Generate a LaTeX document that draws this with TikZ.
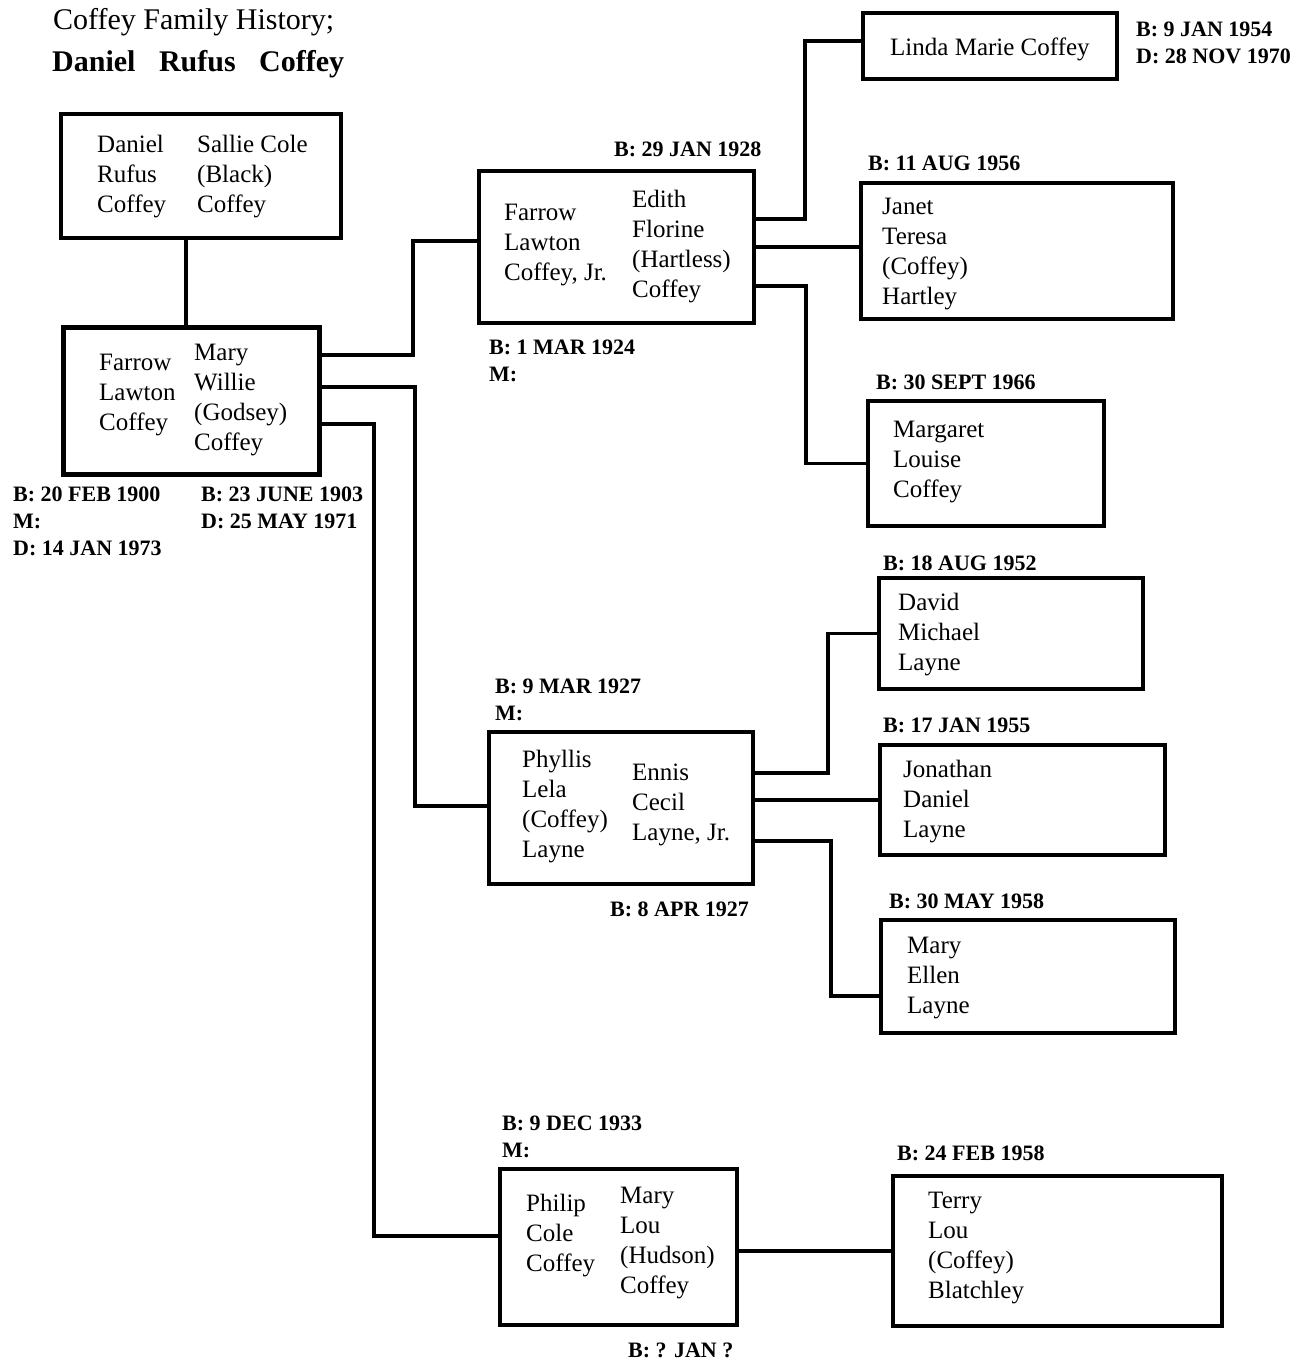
\documentclass[tikz,border=0pt]{standalone}
\usepackage{fontspec}
\setmainfont{Liberation Serif}
\tikzset{
  box/.style={draw, rectangle, line width=3.2pt, inner sep=0pt},
  heavybox/.style={box, line width=5.5pt},
  conn/.style={line width=3.2pt},
  nm/.style={anchor=base west, inner sep=0pt, font=\fontsize{25}{30}\selectfont},
  dt/.style={anchor=base west, inner sep=0pt, font=\fontsize{22}{27}\selectfont\bfseries},
  ttl/.style={anchor=base west, inner sep=0pt, font=\fontsize{30}{34}\selectfont},
}
\newcommand\namecol[4]{\foreach \t [count=\i from 0] in {#4} {\node[nm] (#1\i) at (#2,{#3+30*\i}) {\t};}}
\newcommand\datecol[4]{\foreach \t [count=\i from 0] in {#4} {\node[dt] (#1\i) at (#2,{#3+27*\i}) {\t};}}
\begin{document}
\begin{tikzpicture}[x=1pt,y=-1pt]
\useasboundingbox (0,0) rectangle (1301,1365);
\fill[white] (0,0) rectangle (1301,1365);

% title
\node[ttl] (title1) at (53,29) {Coffey Family History;};
\node[ttl, font=\fontsize{30}{34}\selectfont\bfseries] (title2) at (52,71) {Daniel\hspace{16pt} Rufus\hspace{16pt} Coffey};

% boxes
\node[box, minimum width=280pt, minimum height=124pt] (drc) at (201,176) {};
\node[heavybox, minimum width=256pt, minimum height=147pt] (flc) at (191.5,401) {};
\node[box, minimum width=275pt, minimum height=152pt] (jr) at (616.5,247) {};
\node[box, minimum width=254pt, minimum height=66pt] (linda) at (990,46) {};
\node[box, minimum width=312pt, minimum height=136pt] (janet) at (1017,251) {};
\node[box, minimum width=236pt, minimum height=125pt] (marg) at (986,463.5) {};
\node[box, minimum width=264pt, minimum height=152pt] (phy) at (621,808) {};
\node[box, minimum width=264pt, minimum height=111pt] (david) at (1011,633.5) {};
\node[box, minimum width=285pt, minimum height=110pt] (jon) at (1022.5,800) {};
\node[box, minimum width=294pt, minimum height=113pt] (mell) at (1028,976.5) {};
\node[box, minimum width=237pt, minimum height=156pt] (phil) at (618.5,1247) {};
\node[box, minimum width=329pt, minimum height=150pt] (terry) at (1057.5,1251) {};

% connectors
\draw[conn] ([xshift=-15pt]drc.south) -- ([xshift=-15pt]drc.south |- flc.north);
\draw[conn] ([yshift=46pt]flc.east) -| (413,241) -- ([yshift=6pt]jr.west);
\draw[conn] ([yshift=14pt]flc.east) -| (415,806) -- ([yshift=2pt]phy.west);
\draw[conn] ([yshift=-23pt]flc.east) -| (374,1236) -- ([yshift=11pt]phil.west);
\draw[conn] ([yshift=28pt]jr.east) -| (805,41) -- ([yshift=5pt]linda.west);
\draw[conn] (jr.east) -- (jr.east -| janet.west);
\draw[conn] ([yshift=-39pt]jr.east) -| (806,463.5) -- (marg.west);
\draw[conn] ([yshift=35pt]phy.east) -| (828,633.5) -- (david.west);
\draw[conn] (phy.east |- jon.west) -- (jon.west);
\draw[conn] ([yshift=-33pt]phy.east) -| (831,996) -- ([yshift=-19.5pt]mell.west);
\draw[conn] (phil.east |- terry.west) -- (terry.west);

% names
\namecol{drcL}{97}{152}{Daniel,Rufus,Coffey}
\namecol{drcR}{197}{152}{Sallie Cole,(Black),Coffey}
\namecol{flcL}{99}{370}{Farrow,Lawton,Coffey}
\namecol{flcR}{194}{360}{Mary,Willie,(Godsey),Coffey}
\namecol{jrL}{504}{220}{Farrow,Lawton,{Coffey, Jr.}}
\namecol{jrR}{632}{207}{Edith,Florine,(Hartless),Coffey}
\node[nm] (lindaT) at (890,55) {Linda Marie Coffey};
\namecol{janT}{882}{214}{Janet,Teresa,(Coffey),Hartley}
\namecol{margT}{893}{437}{Margaret,Louise,Coffey}
\namecol{phyL}{522}{767}{Phyllis,Lela,(Coffey),Layne}
\namecol{phyR}{632}{780}{Ennis,Cecil,{Layne, Jr.}}
\namecol{davT}{898}{610}{David,Michael,Layne}
\namecol{jonT}{903}{777}{Jonathan,Daniel,Layne}
\namecol{melT}{907}{953}{Mary,Ellen,Layne}
\namecol{philL}{526}{1211}{Philip,Cole,Coffey}
\namecol{philR}{620}{1203}{Mary,Lou,(Hudson),Coffey}
\namecol{terT}{928}{1208}{Terry,Lou,(Coffey),Blatchley}

% dates
\datecol{flcD}{13}{501}{B: 20 FEB 1900,M:,D: 14 JAN 1973}
\datecol{mwD}{201}{501}{B: 23 JUNE 1903,D: 25 MAY 1971}
\node[dt] (jrB2) at (614,156) {B: 29 JAN 1928};
\datecol{jrD}{489}{354}{B: 1 MAR 1924,M:}
\datecol{lindaD}{1136}{36}{B: 9 JAN 1954,D: 28 NOV 1970}
\node[dt] (janD) at (868,170) {B: 11 AUG 1956};
\node[dt] (margD) at (876,389) {B: 30 SEPT 1966};
\datecol{phyD}{495}{693}{B: 9 MAR 1927,M:}
\node[dt] (phyB2) at (610,916) {B: 8 APR 1927};
\node[dt] (davD) at (883,570) {B: 18 AUG 1952};
\node[dt] (jonD) at (883,732) {B: 17 JAN 1955};
\node[dt] (melD) at (889,908) {B: 30 MAY 1958};
\datecol{philD}{502}{1130}{B: 9 DEC 1933,M:}
\node[dt] (philB2) at (628,1357) {B: ? JAN ?};
\node[dt] (terD) at (897,1160) {B: 24 FEB 1958};
\end{tikzpicture}
\end{document}
